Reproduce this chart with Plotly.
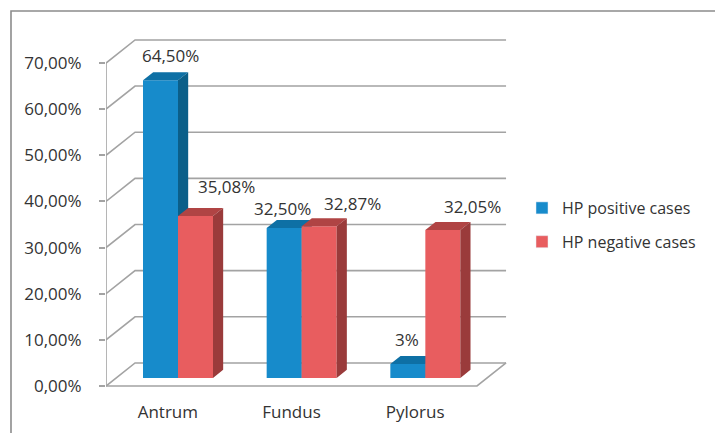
import plotly.graph_objects as go

# ---- data -------------------------------------------------------------
categories = ["Antrum", "Fundus", "Pylorus"]
series_names = ["HP positive cases", "HP negative cases"]
hp_positive = [64.50, 32.50, 3.00]
hp_negative = [35.08, 32.87, 32.05]
positive_labels = ["64,50%", "32,50%", "3%"]
negative_labels = ["35,08%", "32,87%", "32,05%"]
y_ticks = [0, 10, 20, 30, 40, 50, 60, 70]
y_tick_labels = ["0,00%", "10,00%", "20,00%", "30,00%",
                 "40,00%", "50,00%", "60,00%", "70,00%"]

# ---- styling / pseudo-3D geometry ---------------------------------------
FONT = "Open Sans"
TEXT = "#333333"
GRID = "#A3A3A3"
FACE_COLORS = [
    {"front": "#178BCB", "top": "#0E70A5", "side": "#0B5F89"},
    {"front": "#E85D5F", "top": "#B04444", "side": "#9A3B3B"},
]
DEPTH_X = 0.235      # shift of the back wall along x (category units)
DEPTH_Y = 5.0        # shift of the back wall along y (value units)
BAR_W = 0.283        # width of one bar (category units)
BAR_D0, BAR_D1 = 0.35, 0.70   # bar front/back depth (0 = front, 1 = wall)
# label nudges in pixels (x, y) relative to the top-back centre of each bar
LABEL_SHIFT = [
    [(0, 17), (-12, 11), (-11, 17)],
    [(21, 21), (23, 15), (19, 15)],
]

PX_PER_X = 371 / 3.0
PX_PER_Y = 323 / 70.0
W, H = 715, 433
M_L, M_R, M_T, M_B = 106, 195, 30, 33


def proj(x, y, d):
    """Project a point (x, value, depth) onto the 2-D axes."""
    return x + d * DEPTH_X, y + d * DEPTH_Y


def poly_trace(polys, color):
    xs, ys = [], []
    for pts in polys:
        for (px, py) in pts + [pts[0]]:
            xs.append(px)
            ys.append(py)
        xs.append(None)
        ys.append(None)
    return go.Scatter(x=xs, y=ys, mode="lines", fill="toself",
                      fillcolor=color, line=dict(width=0, color=color),
                      hoverinfo="skip", showlegend=False)


fig = go.Figure()

# ---- walls, floor and gridlines ----------------------------------------
x_lo, x_hi = -0.5, len(categories) - 0.5
gx, gy = [], []
for v in y_ticks:
    for pt in (proj(x_lo, v, 0), proj(x_lo, v, 1), proj(x_hi, v, 1)):
        gx.append(pt[0]); gy.append(pt[1])
    gx.append(None); gy.append(None)
for pt in (proj(x_lo, 0, 0), proj(x_hi, 0, 0), proj(x_hi, 0, 1)):
    gx.append(pt[0]); gy.append(pt[1])
gx.append(None); gy.append(None)
for pt in (proj(x_lo, 0, 0), proj(x_lo, y_ticks[-1], 0)):
    gx.append(pt[0]); gy.append(pt[1])
fig.add_trace(go.Scatter(x=gx, y=gy, mode="lines",
                         line=dict(color=GRID, width=1.6),
                         hoverinfo="skip", showlegend=False))

# ---- 3-D bars -----------------------------------------------------------
annotations = []
for s, (values, labels) in enumerate([(hp_positive, positive_labels),
                                      (hp_negative, negative_labels)]):
    fronts, tops, sides = [], [], []
    for i, v in enumerate(values):
        x0 = i - BAR_W if s == 0 else i
        x1 = x0 + BAR_W
        fronts.append([proj(x0, 0, BAR_D0), proj(x1, 0, BAR_D0),
                       proj(x1, v, BAR_D0), proj(x0, v, BAR_D0)])
        tops.append([proj(x0, v, BAR_D0), proj(x1, v, BAR_D0),
                     proj(x1, v, BAR_D1), proj(x0, v, BAR_D1)])
        sides.append([proj(x1, 0, BAR_D0), proj(x1, v, BAR_D0),
                      proj(x1, v, BAR_D1), proj(x1, 0, BAR_D1)])
        lx, ly = proj((x0 + x1) / 2, v, BAR_D1)
        dx, dy = LABEL_SHIFT[s][i]
        annotations.append(dict(x=lx, y=ly, xref="x", yref="y", text=labels[i],
                                showarrow=False, xshift=dx, yshift=dy,
                                font=dict(family=FONT, size=17, color=TEXT)))
    c = FACE_COLORS[s]
    fig.add_trace(poly_trace(fronts, c["front"]))
    fig.add_trace(poly_trace(tops, c["top"]))
    fig.add_trace(poly_trace(sides, c["side"]))

# legend entries
for s, name in enumerate(series_names):
    fig.add_trace(go.Bar(x=[None], y=[None], name=name,
                         marker_color=FACE_COLORS[s]["front"],
                         legendgroup=name))

# ---- axes ---------------------------------------------------------------
plot_w = W - M_L - M_R
plot_h = H - M_T - M_B
x_range = [x_lo, x_lo + plot_w / PX_PER_X]
zero_px_from_bottom = 14
y_range = [-zero_px_from_bottom / PX_PER_Y,
           (plot_h - zero_px_from_bottom) / PX_PER_Y]
axis_pos = zero_px_from_bottom / plot_h

fig.update_layout(
    width=W, height=H,
    margin=dict(l=M_L, r=M_R, t=M_T, b=M_B, autoexpand=False),
    paper_bgcolor="white", plot_bgcolor="white",
    font=dict(family=FONT, size=17, color=TEXT),
    showlegend=True,
    legend=dict(x=(522 - M_L) / plot_w, xanchor="left",
                y=(H - M_B - 225) / plot_h, yanchor="middle",
                font=dict(family=FONT, size=16, color=TEXT),
                tracegroupgap=10, bgcolor="rgba(0,0,0,0)"),
    xaxis=dict(range=x_range, tickmode="array",
               tickvals=list(range(len(categories))), ticktext=categories,
               ticks="", showgrid=False, zeroline=False, showline=False,
               anchor="free", position=axis_pos, ticklabelstandoff=14,
               tickfont=dict(family=FONT, size=17, color=TEXT)),
    xaxis2=dict(range=x_range, overlaying="x", anchor="free",
                position=axis_pos, tickmode="array",
                tickvals=[k - 0.5 for k in range(len(categories) + 1)],
                ticks="outside", ticklen=5, tickwidth=1.6, tickcolor=GRID,
                showticklabels=False, showgrid=False, zeroline=False,
                showline=False),
    yaxis=dict(range=y_range, tickmode="array", tickvals=y_ticks,
               ticktext=y_tick_labels, ticks="outside", ticklen=6,
               tickwidth=1.6, tickcolor=GRID, showgrid=False,
               zeroline=False, showline=False, ticklabelstandoff=14,
               tickfont=dict(family=FONT, size=17, color=TEXT)),
    annotations=annotations,
    shapes=[dict(type="path", xref="paper", yref="paper",
                 path="M {x0},{y0} L {x0},{y1} L {x1},{y1}".format(
                     x0=(11 - M_L) / plot_w, y0=-0.2,
                     y1=(H - M_B - 11) / plot_h, x1=1.6),
                 line=dict(color="#8C8C8C", width=1.6))],
)

fig.write_html("out.html")
